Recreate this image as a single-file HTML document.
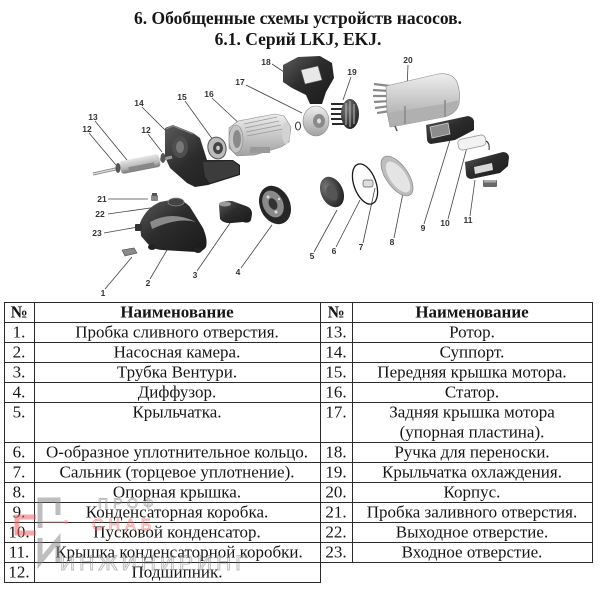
<!DOCTYPE html>
<html><head><meta charset="utf-8">
<style>
html,body{margin:0;padding:0;background:#fff;}
body{width:600px;height:589px;overflow:hidden;position:relative;}
svg{position:absolute;left:0;top:0;}
.t{font-family:"Liberation Serif","DejaVu Serif",serif;font-size:17px;fill:#161616;}
.b{font-weight:bold;}
.n{font-family:"Liberation Sans","DejaVu Sans",sans-serif;font-size:8.5px;fill:#333;font-weight:bold;}
</style></head><body>
<svg width="600" height="589" viewBox="0 0 600 589">
<defs>
<linearGradient id="dk" x1="0" y1="0" x2="1" y2="1"><stop offset="0" stop-color="#5a5a5a"/><stop offset="0.45" stop-color="#2c2c2c"/><stop offset="1" stop-color="#1a1a1a"/></linearGradient>
<linearGradient id="lt" x1="0" y1="0" x2="0" y2="1"><stop offset="0" stop-color="#eeeeee"/><stop offset="1" stop-color="#a2a2a2"/></linearGradient>
<linearGradient id="lt2" x1="0" y1="0" x2="0" y2="1"><stop offset="0" stop-color="#e6e6e6"/><stop offset="0.6" stop-color="#b8b8b8"/><stop offset="1" stop-color="#777"/></linearGradient>
<radialGradient id="dkr" cx="0.35" cy="0.3" r="0.8"><stop offset="0" stop-color="#777"/><stop offset="1" stop-color="#1c1c1c"/></radialGradient>
</defs>

<!-- Title -->
<text x="298" y="24" text-anchor="middle" class="t b" style="font-size:17.5px">6. Обобщенные схемы устройств насосов.</text>
<text x="298" y="45" text-anchor="middle" class="t b" style="font-size:17.5px">6.1. Серий LKJ, EKJ.</text>

<!-- ===== Diagram ===== -->
<g stroke="#444" stroke-width="0.8" fill="none">
<line x1="272" y1="64" x2="284" y2="72"/>
<line x1="246" y1="85" x2="302" y2="113"/>
<line x1="351" y1="77" x2="343" y2="100"/>
<line x1="408" y1="65" x2="407" y2="90"/>
<line x1="142" y1="107" x2="165" y2="130"/>
<line x1="185" y1="101" x2="213" y2="140"/>
<line x1="212" y1="98" x2="243" y2="127"/>
<line x1="95" y1="121" x2="127" y2="160"/>
<line x1="89" y1="133" x2="116" y2="165"/>
<line x1="148" y1="134" x2="162" y2="152"/>
<line x1="108" y1="199" x2="148" y2="199"/>
<line x1="108" y1="214" x2="157" y2="207"/>
<line x1="104" y1="233" x2="138" y2="227"/>
<line x1="105" y1="289" x2="132" y2="257"/>
<line x1="150" y1="279" x2="167" y2="250"/>
<line x1="197" y1="271" x2="230" y2="223"/>
<line x1="241" y1="268" x2="272" y2="225"/>
<line x1="314" y1="252" x2="337" y2="210"/>
<line x1="336" y1="247" x2="360" y2="200"/>
<line x1="363" y1="243" x2="375" y2="188"/>
<line x1="394" y1="238" x2="403" y2="193"/>
<line x1="424" y1="224" x2="450" y2="140"/>
<line x1="448" y1="219" x2="467" y2="147"/>
<line x1="470" y1="216" x2="475" y2="180"/>
</g>

<!-- 20 housing -->
<g stroke="#8a8a8a" stroke-width="2.2">
<line x1="374" y1="84" x2="390" y2="86"/>
<line x1="373" y1="90" x2="390" y2="91"/>
<line x1="373" y1="96" x2="390" y2="96"/>
<line x1="374" y1="102" x2="390" y2="101"/>
<line x1="375" y1="108" x2="390" y2="106"/>
<line x1="377" y1="113" x2="390" y2="111"/>
</g>
<path d="M386,86 L438,74 Q452,72 457,82 Q461,92 459,104 Q456,114 444,117 L402,125 L390,127 L387,112 Z" fill="url(#lt)" stroke="#888" stroke-width="0.6"/>
<path d="M388,113 L444,104 L459,100 Q456,114 444,117 L402,125 L390,127 Z" fill="#b0b0b0"/>
<line x1="405" y1="106" x2="405" y2="124" stroke="#888" stroke-width="1.5"/>
<line x1="445" y1="100" x2="445" y2="117" stroke="#888" stroke-width="1.5"/>
<line x1="395" y1="126" x2="397" y2="131" stroke="#555" stroke-width="1.5"/>

<!-- 9 capacitor box -->
<path d="M426,125 L468,116 Q473,117 474,121 L474,130 L455,140 L431,144 Q427,143 427,139 Z" fill="url(#dk)"/>
<path d="M430,127 L448,123 L450,134 L432,138 Z" fill="#8c8c8c" stroke="#d0d0d0" stroke-width="0.8"/>
<!-- 10 capacitor -->
<g transform="rotate(-12 472 143)"><rect x="458" y="137" width="28" height="11" rx="4" fill="#f2f2f2" stroke="#9a9a9a" stroke-width="0.8"/></g>
<path d="M486,141 Q490,143 489,150" stroke="#333" stroke-width="1" fill="none"/>
<!-- 11 cover -->
<path d="M465,162 L503,152 Q508,152 509,157 L508,166 L500,173 L471,179 Q466,178 466,174 Z" fill="url(#dk)"/>
<path d="M474,167 L492,163 L493,170 L475,174 Z" fill="#d8d8d8"/>
<rect x="483" y="180" width="14" height="7" fill="#6a6a6a" rx="1"/>
<rect x="484" y="180" width="12" height="2.5" fill="#aaa"/>

<!-- 18 handle -->
<path d="M283,65 L298,57 L320,56 L332,63 L334,78 L326,92 L322,104 L310,104 L306,95 L292,88 L283,82 Z" fill="url(#dk)"/>
<path d="M301,70 L318,66 L322,80 L305,84 Z" fill="#e8e8e8" stroke="#666" stroke-width="0.6"/>

<!-- 17 rear cover -->
<ellipse cx="316" cy="121" rx="13" ry="15" fill="url(#lt)" stroke="#888" stroke-width="0.6"/>
<ellipse cx="319" cy="121" rx="6" ry="7" fill="#8a8a8a"/>
<ellipse cx="319" cy="121" rx="2" ry="2.5" fill="#ddd"/>
<ellipse cx="298" cy="126" rx="2.5" ry="4" fill="none" stroke="#333" stroke-width="1"/>

<!-- 19 fan -->
<g stroke="#2a2a2a" stroke-width="2">
<line x1="331" y1="104" x2="345" y2="104"/>
<line x1="331" y1="109" x2="345" y2="109"/>
<line x1="331" y1="114" x2="345" y2="114"/>
<line x1="331" y1="119" x2="345" y2="119"/>
<line x1="332" y1="124" x2="345" y2="124"/>
</g>
<ellipse cx="350" cy="114" rx="9" ry="15" fill="url(#dkr)"/>
<g stroke="#bbb" stroke-width="1"><line x1="346" y1="103" x2="346" y2="125"/><line x1="350" y1="101" x2="350" y2="127"/><line x1="354" y1="104" x2="354" y2="124"/></g>

<!-- 16 stator -->
<path d="M229,128 L238,121 L275,114 L284,116 L291,127 L289,142 L281,147 L255,155 L237,156 L229,148 Z" fill="url(#lt)" stroke="#888" stroke-width="0.6"/>
<g stroke="#999" stroke-width="0.8">
<line x1="244" y1="124" x2="277" y2="117"/><line x1="245" y1="128" x2="279" y2="121"/><line x1="246" y1="132" x2="281" y2="125"/><line x1="247" y1="136" x2="283" y2="129"/>
</g>
<rect x="250" y="147" width="20" height="6" fill="#999"/>
<ellipse cx="236" cy="139" rx="7" ry="14" fill="#c4c4c4" stroke="#888" stroke-width="0.6"/>
<ellipse cx="237" cy="139" rx="4" ry="9" fill="#8a8a8a"/>
<ellipse cx="286" cy="133" rx="4" ry="11" fill="#d2d2d2"/>

<!-- 14 support -->
<path d="M165,128 L173,125 L193,133 L200,138 L207,160 L233,160 L240,165 L240,175 L208,185 L195,187 L187,183 L170,168 L165,157 Z" fill="url(#dk)"/>
<path d="M203,162 L233,161 L239,166 L239,174 L210,183 L205,177 Z" fill="#3c3c3c"/>
<ellipse cx="180" cy="147" rx="8" ry="11" fill="#4e4e4e"/>
<ellipse cx="180" cy="147" rx="4" ry="6" fill="#777"/>
<path d="M166,129 L173,126 L193,134" stroke="#888" stroke-width="1" fill="none"/>

<!-- 15 front cover -->
<ellipse cx="217" cy="148" rx="9" ry="11" transform="rotate(-15 217 148)" fill="#bcbcbc" stroke="#555" stroke-width="1"/>
<ellipse cx="218" cy="148" rx="5" ry="6" fill="#444"/>
<ellipse cx="218" cy="148" rx="1.8" ry="2.2" fill="#ccc"/>

<!-- 13 rotor + 12 bearings -->
<line x1="93" y1="174" x2="120" y2="168" stroke="#888" stroke-width="3"/>
<line x1="93" y1="174" x2="120" y2="168" stroke="#ddd" stroke-width="1.4"/>
<line x1="160" y1="160" x2="172" y2="157" stroke="#999" stroke-width="3"/>
<g transform="rotate(-11 140 164)"><rect x="120" y="157.5" width="40" height="13" rx="3" fill="url(#lt2)"/><rect x="128" y="165" width="26" height="4" fill="#888"/></g>
<ellipse cx="118" cy="168" rx="2.5" ry="5" fill="#555"/>
<ellipse cx="163" cy="158" rx="2.5" ry="5" fill="#555"/>

<!-- 2 pump chamber -->
<path d="M140,223 Q146,208 160,202 L176,199 Q184,200 190,207 L203,228 Q208,240 206,247 Q203,252 196,252 L162,250 Q152,249 148,244 L141,236 Z" fill="url(#dk)"/>
<path d="M150,222 Q172,210 196,222 Q178,217 152,229 Z" fill="#8a8a8a"/>
<ellipse cx="176" cy="202" rx="8" ry="4" fill="#444" stroke="#888" stroke-width="0.8"/>
<rect x="135" y="224" width="7" height="7" fill="#333" rx="1"/>
<ellipse cx="152" cy="247" rx="4" ry="3" fill="#222"/>
<ellipse cx="198" cy="250" rx="4" ry="3" fill="#222"/>
<!-- 21 -->
<rect x="151" y="195" width="7" height="6" fill="#888" rx="1"/>
<rect x="152" y="193" width="5" height="3" fill="#555"/>
<!-- 1 -->
<path d="M122,250 L134,248 L137,253 L125,256 Z" fill="#8a8a8a" stroke="#444" stroke-width="0.6"/>

<!-- 3 venturi -->
<path d="M219,205 Q222,200 232,201 L246,206 Q252,208 252,214 L251,220 Q249,224 243,222 L232,223 Q224,224 220,219 Z" fill="url(#dk)"/>
<ellipse cx="225" cy="204" rx="6" ry="2.5" fill="#999"/>

<!-- 4 diffuser -->
<ellipse cx="275" cy="205" rx="15" ry="20" transform="rotate(-25 275 205)" fill="#262626"/>
<ellipse cx="273" cy="204" rx="10" ry="14" transform="rotate(-25 273 204)" fill="#8a8a8a"/>
<ellipse cx="273" cy="204" rx="4" ry="6" transform="rotate(-25 273 204)" fill="#333"/>
<circle cx="268" cy="197" r="1.5" fill="#ddd"/><circle cx="276" cy="212" r="1.5" fill="#ddd"/><circle cx="279" cy="199" r="1.2" fill="#ddd"/>

<!-- 5 impeller -->
<ellipse cx="332" cy="192" rx="11" ry="16" transform="rotate(-25 332 192)" fill="url(#dkr)"/>
<ellipse cx="332" cy="193" rx="5" ry="8" transform="rotate(-25 332 193)" fill="#555"/>

<!-- 6 o-ring, 7 seal -->
<ellipse cx="365" cy="184" rx="11" ry="21" transform="rotate(-20 365 184)" fill="none" stroke="#1a1a1a" stroke-width="1.3"/>
<rect x="363" y="180" width="10" height="7" rx="2" fill="#ddd" stroke="#555" stroke-width="0.7"/>

<!-- 8 support cover -->
<ellipse cx="397" cy="176" rx="11" ry="23" transform="rotate(-35 397 176)" fill="#bdbdbd" stroke="#888" stroke-width="0.7"/>
<ellipse cx="398" cy="177" rx="8" ry="18" transform="rotate(-35 398 177)" fill="#e4e4e4"/>

<!-- labels -->
<g class="n" text-anchor="middle">
<text x="266" y="65">18</text>
<text x="240" y="85">17</text>
<text x="352" y="75">19</text>
<text x="408" y="63">20</text>
<text x="139" y="106">14</text>
<text x="182" y="100">15</text>
<text x="209" y="97">16</text>
<text x="93" y="120">13</text>
<text x="87" y="132">12</text>
<text x="146" y="133">12</text>
<text x="102" y="202">21</text>
<text x="100" y="217">22</text>
<text x="97" y="236">23</text>
<text x="103" y="296">1</text>
<text x="148" y="286">2</text>
<text x="195" y="278">3</text>
<text x="238" y="275">4</text>
<text x="312" y="259">5</text>
<text x="334" y="254">6</text>
<text x="361" y="250">7</text>
<text x="392" y="245">8</text>
<text x="423" y="231">9</text>
<text x="445" y="226">10</text>
<text x="468" y="223">11</text>
</g>

<!-- ===== Table lines ===== -->
<g stroke="#2a2a2a" stroke-width="1" shape-rendering="crispEdges">
<line x1="4" y1="302.5" x2="592" y2="302.5"/>
<line x1="4" y1="322.5" x2="592" y2="322.5"/>
<line x1="4" y1="342.5" x2="592" y2="342.5"/>
<line x1="4" y1="362.5" x2="592" y2="362.5"/>
<line x1="4" y1="382.5" x2="592" y2="382.5"/>
<line x1="4" y1="402.5" x2="592" y2="402.5"/>
<line x1="4" y1="442.5" x2="592" y2="442.5"/>
<line x1="4" y1="462.5" x2="592" y2="462.5"/>
<line x1="4" y1="482.5" x2="592" y2="482.5"/>
<line x1="4" y1="502.5" x2="592" y2="502.5"/>
<line x1="4" y1="522.5" x2="592" y2="522.5"/>
<line x1="4" y1="542.5" x2="592" y2="542.5"/>
<line x1="4" y1="562.5" x2="592" y2="562.5"/>
<line x1="4" y1="582.5" x2="320" y2="582.5"/>
<line x1="4.5" y1="302" x2="4.5" y2="583"/>
<line x1="34.5" y1="302" x2="34.5" y2="583"/>
<line x1="320.5" y1="302" x2="320.5" y2="583"/>
<line x1="352.5" y1="302" x2="352.5" y2="563"/>
<line x1="592.5" y1="302" x2="592.5" y2="563"/>
</g>

<!-- ===== Table text ===== -->
<g class="t" text-anchor="middle">
<text x="19" y="317.5" class="b">№</text>
<text x="177" y="317.5" class="b">Наименование</text>
<text x="336" y="317.5" class="b">№</text>
<text x="472" y="317.5" class="b">Наименование</text>

<text x="19" y="337.5">1.</text><text x="177" y="337.5">Пробка сливного отверстия.</text>
<text x="19" y="357.5">2.</text><text x="177" y="357.5">Насосная камера.</text>
<text x="19" y="377.5">3.</text><text x="177" y="377.5">Трубка Вентури.</text>
<text x="19" y="397.5">4.</text><text x="177" y="397.5">Диффузор.</text>
<text x="19" y="417.5">5.</text><text x="177" y="417.5">Крыльчатка.</text>
<text x="19" y="457.5">6.</text><text x="177" y="457.5">О-образное уплотнительное кольцо.</text>
<text x="19" y="477.5">7.</text><text x="177" y="477.5">Сальник (торцевое уплотнение).</text>
<text x="19" y="497.5">8.</text><text x="177" y="497.5">Опорная крышка.</text>
<text x="19" y="517.5">9.</text><text x="177" y="517.5">Конденсаторная коробка.</text>
<text x="19" y="537.5">10.</text><text x="177" y="537.5">Пусковой конденсатор.</text>
<text x="19" y="557.5">11.</text><text x="179" y="557.5">Крышка конденсаторной коробки.</text>
<text x="19" y="577.5">12.</text><text x="177" y="577.5">Подшипник.</text>

<text x="336" y="337.5">13.</text><text x="472" y="337.5">Ротор.</text>
<text x="336" y="357.5">14.</text><text x="472" y="357.5">Суппорт.</text>
<text x="336" y="377.5">15.</text><text x="472" y="377.5">Передняя крышка мотора.</text>
<text x="336" y="397.5">16.</text><text x="472" y="397.5">Статор.</text>
<text x="336" y="417.5">17.</text><text x="472" y="417.5">Задняя крышка мотора</text>
<text x="472" y="437.5">(упорная пластина).</text>
<text x="336" y="457.5">18.</text><text x="472" y="457.5">Ручка для переноски.</text>
<text x="336" y="477.5">19.</text><text x="472" y="477.5">Крыльчатка охлаждения.</text>
<text x="336" y="497.5">20.</text><text x="472" y="497.5">Корпус.</text>
<text x="336" y="517.5">21.</text><text x="472" y="517.5">Пробка заливного отверстия.</text>
<text x="336" y="537.5">22.</text><text x="472" y="537.5">Выходное отверстие.</text>
<text x="336" y="557.5">23.</text><text x="472" y="557.5">Входное отверстие.</text>
</g>

<!-- watermark -->
<g opacity="0.55" fill="none">
<path d="M40,528 V500 H58 V515" stroke="#8a8a8a" stroke-width="5"/>
<path d="M36,517 H17 V533 H36" stroke="#e66" stroke-width="5"/>
<path d="M40,538 V562 L58,540 V562" stroke="#8a8a8a" stroke-width="5"/>
<line x1="42" y1="522" x2="64" y2="522" stroke="#e88" stroke-width="1.5"/>
<circle cx="66" cy="522" r="2" fill="#e88"/>
<text x="98" y="508" font-family="Liberation Sans, sans-serif" font-size="14" letter-spacing="5" stroke="#888" stroke-width="0.9">ПРОФ</text>
<text x="92" y="530" font-family="Liberation Sans, sans-serif" font-size="16" letter-spacing="5" stroke="#e66" stroke-width="1">СНАБ</text>
<text x="60" y="570" font-family="Liberation Sans, sans-serif" font-size="21" letter-spacing="4" stroke="#888" stroke-width="1">ИНЖИНИРИНГ</text>
</g>
</svg>
</body></html>
